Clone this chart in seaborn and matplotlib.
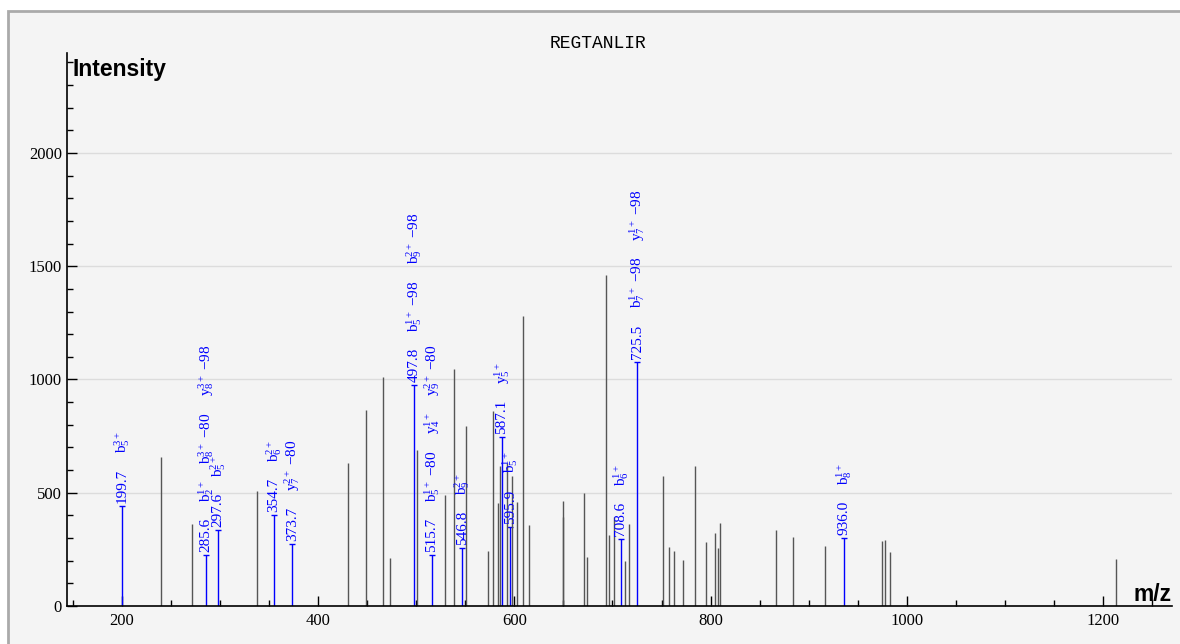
import pandas as pd
import seaborn as sns
import matplotlib
matplotlib.use("Agg")
import matplotlib.pyplot as plt
from matplotlib.patches import Rectangle
from matplotlib.ticker import MultipleLocator

peptide = "REGTANLIR"

# unassigned peaks
peak_mz = [239.4, 271.3, 337.9, 430.0, 448.4, 466.4, 473.2, 500.9, 528.9, 538.4,
           550.7, 573.1, 578.5, 582.9, 585.3, 592.8, 597.9, 602.6, 608.4, 614.5,
           649.2, 649.9, 671.3, 674.3, 693.0, 696.7, 701.4, 713.1, 717.2, 751.2,
           757.3, 763.0, 772.2, 784.4, 795.6, 804.2, 807.2, 809.6, 866.4, 884.3,
           916.6, 975.0, 977.8, 983.2, 1213.9]
peak_int = [659, 361, 509, 630, 865, 1010, 213, 689, 490, 1046,
            795, 244, 861, 456, 620, 630, 574, 458, 1280, 358,
            391, 465, 497, 216, 1461, 312, 394, 199, 362, 574,
            260, 244, 205, 617, 284, 321, 255, 365, 334, 303,
            266, 287, 291, 238, 206]

# annotated fragment ions
ion_mz = [199.7, 285.6, 297.6, 354.7, 373.7, 497.8, 515.7, 546.8, 587.1, 595.9,
          708.6, 725.5, 936.0]
ion_int = [441, 225, 335, 402, 272, 976, 225, 255, 746, 350, 296, 1079, 300]
ion_labels = [
    ["199.7", "b$_5^{3+}$"],
    ["285.6", "b$_2^{1+}$", "b$_8^{3+}$ −80", "y$_8^{3+}$ −98"],
    ["297.6", "b$_5^{2+}$"],
    ["354.7", "b$_6^{2+}$"],
    ["373.7", "y$_7^{2+}$ −80"],
    ["497.8", "b$_5^{1+}$ −98", "b$_9^{2+}$ −98"],
    ["515.7", "b$_5^{1+}$ −80", "y$_4^{1+}$", "y$_9^{2+}$ −80"],
    ["546.8", "b$_9^{2+}$"],
    ["587.1", "y$_5^{1+}$"],
    ["595.9", "b$_5^{1+}$"],
    ["708.6", "b$_6^{1+}$"],
    ["725.5", "b$_7^{1+}$ −98", "y$_7^{1+}$ −98"],
    ["936.0", "b$_8^{1+}$"],
]

sns.set_style("ticks")
plt.rcParams["font.family"] = ["Liberation Serif", "DejaVu Serif"]
plt.rcParams["text.color"] = "black"
plt.rcParams["mathtext.fontset"] = "custom"
plt.rcParams["mathtext.rm"] = "Liberation Serif"
plt.rcParams["mathtext.it"] = "Liberation Serif:italic"
plt.rcParams["mathtext.bf"] = "Liberation Serif:bold"

fig = plt.figure(figsize=(11.8, 6.44), dpi=100, facecolor="white")
fig.patches.append(Rectangle((8 / 1180, -0.05), 1.1, 1.05 - 11 / 644,
                             transform=fig.transFigure, facecolor="#f4f4f4",
                             edgecolor="#aaaaaa", linewidth=2, zorder=-5))

ax = fig.add_axes([66.7 / 1180, 38 / 644, (1172 - 66.7) / 1180, (606 - 53.3) / 644])
ax.set_facecolor("none")

peaks = pd.DataFrame({"mz": peak_mz, "intensity": peak_int})
ions = pd.DataFrame({"mz": ion_mz, "intensity": ion_int})

ax.vlines(peaks["mz"], 0, peaks["intensity"], color="#555555", linewidth=1.0)
ax.vlines(ions["mz"], 0, ions["intensity"], color="#0000ff", linewidth=1.0)
sns.scatterplot(data=ions, x="mz", y="intensity", marker="_", s=14,
                color="#0000ff", linewidth=1, ax=ax, legend=False)

ax.set_xlim(143.5, 1270.5)
ax.set_ylim(0, 2440)
ax.xaxis.set_major_locator(MultipleLocator(200))
ax.xaxis.set_minor_locator(MultipleLocator(50))
ax.yaxis.set_major_locator(MultipleLocator(500))
ax.yaxis.set_minor_locator(MultipleLocator(100))
ax.tick_params(which="major", direction="in", length=7.5, width=1, color="black",
               labelsize=12, labelcolor="black")
ax.tick_params(axis="x", which="major", pad=5)
ax.tick_params(axis="y", which="major", pad=3.5)
ax.tick_params(which="minor", direction="in", length=4.5, width=1, color="black")
ax.grid(axis="y", which="major", color="#dcdcdc", linewidth=1)
ax.set_axisbelow(True)
ax.set_xlabel("")
ax.set_ylabel("")
sns.despine(ax=ax)
for s in ["left", "bottom"]:
    ax.spines[s].set_color("black")
    ax.spines[s].set_linewidth(1.2)

fig.text(73 / 1180, 1 - 76 / 644, "Intensity", family=["Liberation Sans"],
         fontweight="bold", fontsize=16.5, ha="left", va="baseline")
fig.text(1172 / 1180, 1 - 601 / 644, "m/z", family=["Liberation Sans"],
         fontweight="bold", fontsize=16.5, ha="right", va="baseline")
fig.text(598 / 1180, 1 - 48 / 644, peptide, family=["Liberation Mono"],
         fontsize=13, ha="center", va="baseline")

# stacked vertical labels above each assigned peak
fig.canvas.draw()
renderer = fig.canvas.get_renderer()
for mz, inten, labels in zip(ion_mz, ion_int, ion_labels):
    offset = 3
    for lab in labels:
        t = ax.annotate(lab, xy=(mz, inten), xytext=(0, offset * 72 / fig.dpi),
                        textcoords="offset points", rotation=90, ha="center",
                        va="bottom", color="#0000ff", fontsize=11)
        h = t.get_window_extent(renderer).height
        offset += h + 16

fig.savefig("out.png", dpi=100)
